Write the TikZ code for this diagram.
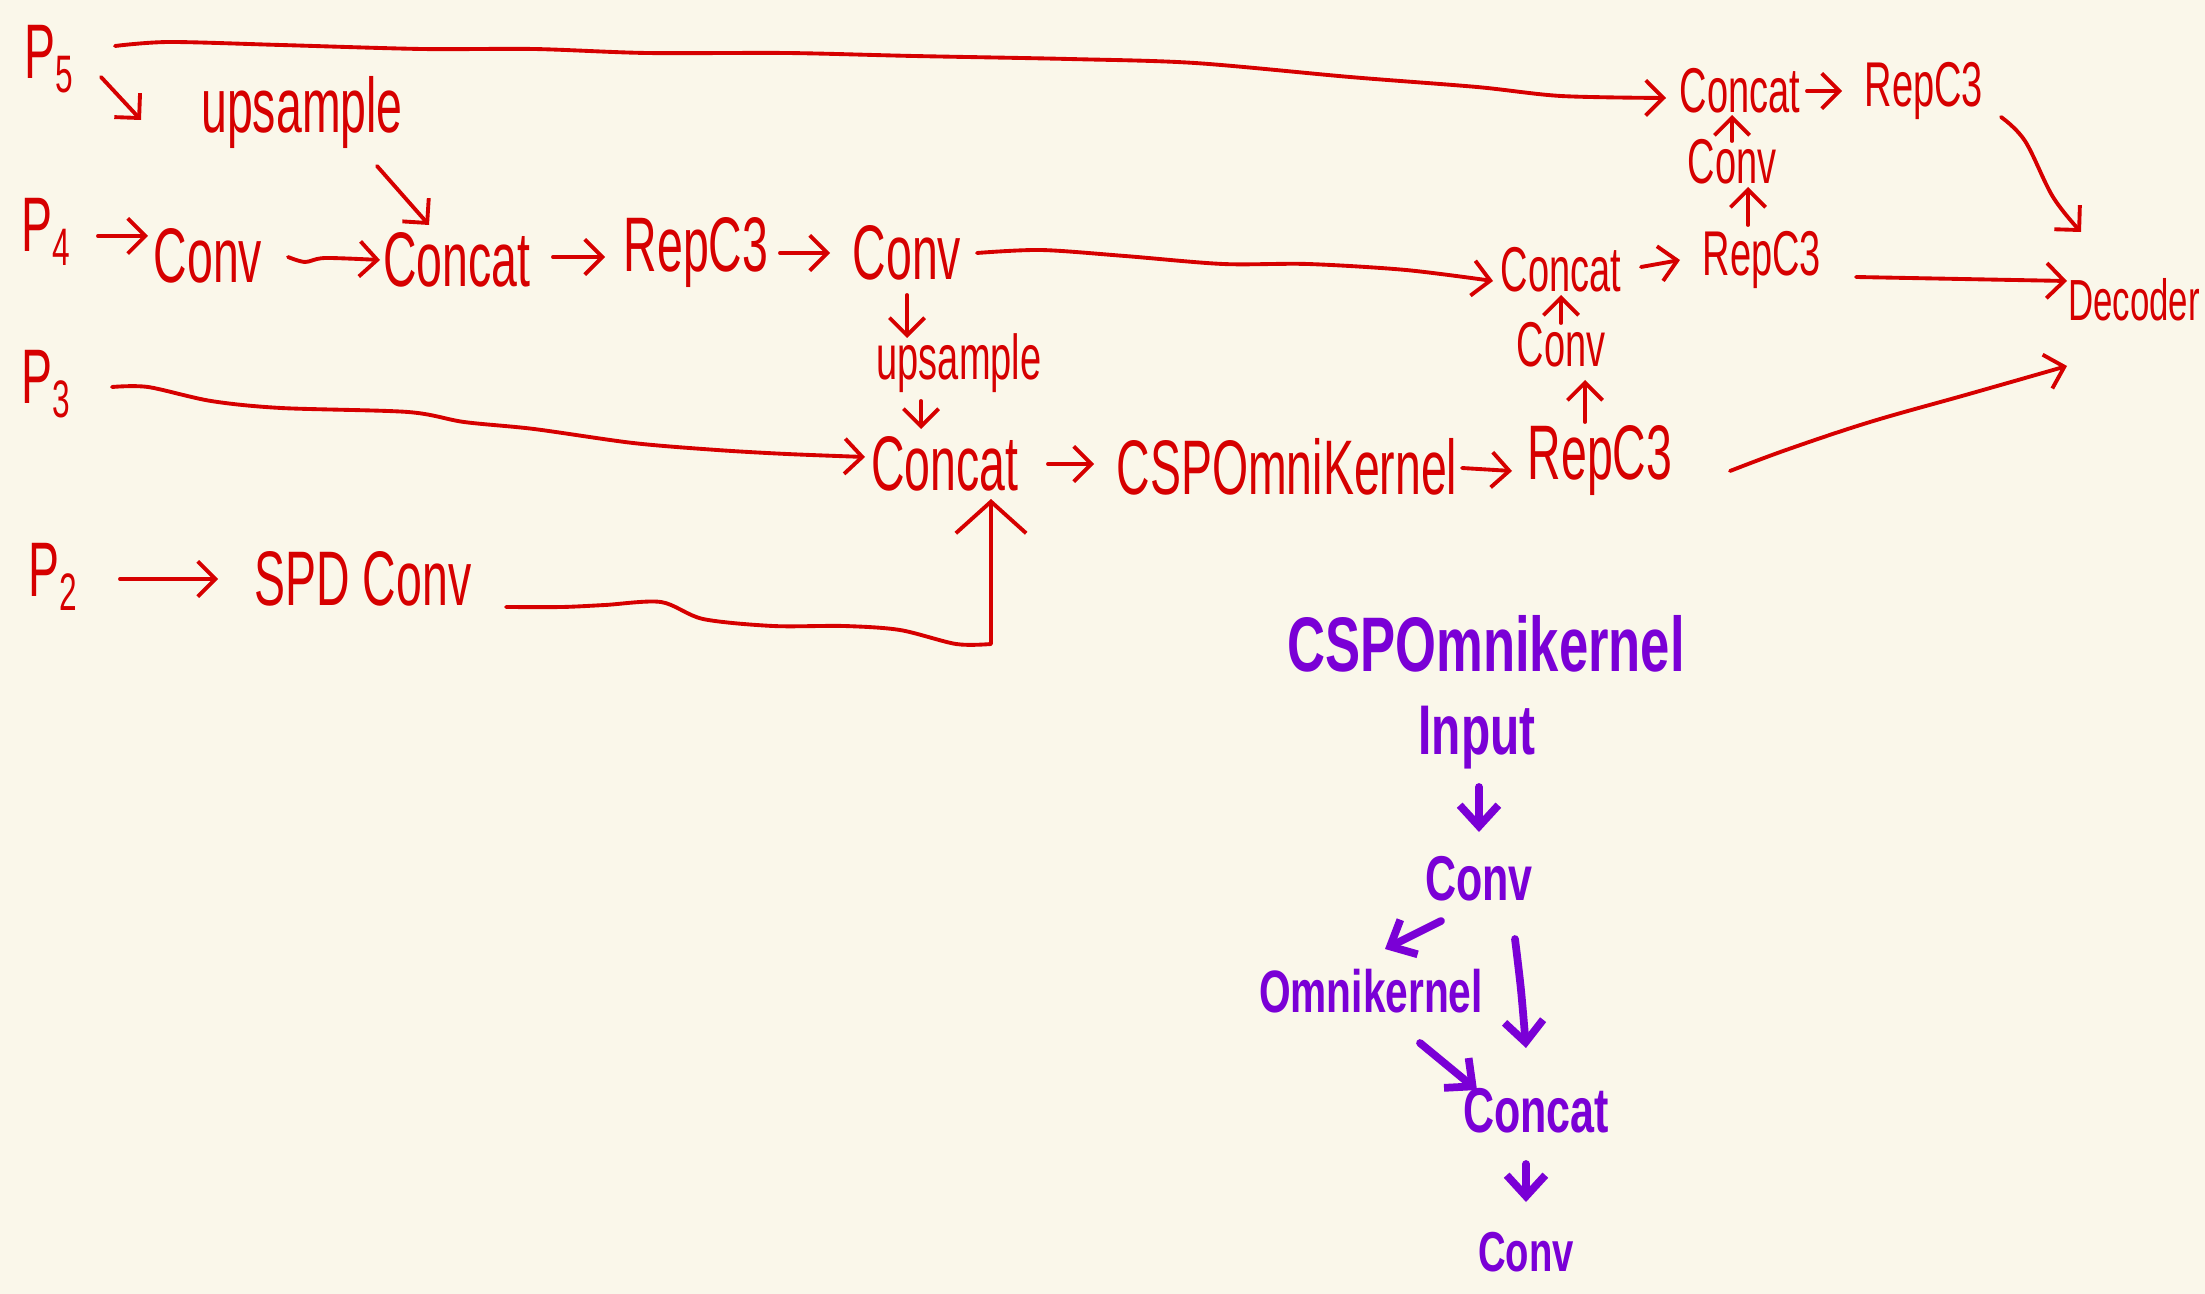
\documentclass[tikz,border=0pt]{standalone}
\usepackage{fontspec}
\setmainfont{Liberation Sans}
\newfontfamily\handr[FakeStretch=0.6]{Liberation Sans}
\newfontfamily\handp[FakeStretch=0.68]{Liberation Sans Bold}
\usetikzlibrary{arrows.meta}
\definecolor{bgc}{RGB}{250,247,234}
\definecolor{hred}{RGB}{214,0,0}
\definecolor{hpurple}{RGB}{122,0,214}
\newcommand\psub[1]{\raisebox{-0.35ex}{\fontsize{15}{15}\selectfont #1}}
\begin{document}
\begin{tikzpicture}[x=0.01cm,y=-0.01cm,
  rt/.style={text=hred,font=\handr\fontsize{#1}{#1}\selectfont,inner sep=2pt},
  rt/.default=22,
  ptxt/.style={text=hpurple,font=\handp\fontsize{#1}{#1}\selectfont,inner sep=2pt},
  ptxt/.default=20,
  rarr/.style={draw=hred,line width=1.1pt,line cap=round,line join=round,-{Straight Barb[length=5pt,width=10pt]}},
  bigarr/.style={draw=hred,line width=1.1pt,line cap=round,line join=round,-{Straight Barb[length=9pt,width=20pt]}},
  parr/.style={draw=hpurple,line width=2.2pt,line cap=round,line join=round,-{Straight Barb[length=6pt,width=11pt]}}]
\fill[bgc] (0,0) rectangle (2205,1294);
\useasboundingbox (0,0) rectangle (2205,1294);

% red nodes
\node[rt] (P5) at (49,59) {P\psub{5}};
\node[rt] (up1) at (302,112) {upsample};
\node[rt] (P4) at (46,232) {P\psub{4}};
\node[rt] (convA) at (208,256) {Conv};
\node[rt] (concatA) at (457,260) {Concat};
\node[rt] (repA) at (696,253) {RepC3};
\node[rt] (convB) at (907,253) {Conv};
\node[rt=18] (up2) at (959,363) {upsample};
\node[rt] (P3) at (46,384) {P\psub{3}};
\node[rt] (concatC) at (945,464) {Concat};
\node[rt] (P2) at (53,577) {P\psub{2}};
\node[rt] (spd) at (363,579) {SPD Conv};
\node[rt] (cspR) at (1287,467) {CSPOmniKernel};
\node[rt] (repC) at (1600,461) {RepC3};
\node[rt=18] (convC) at (1561,345) {Conv};
\node[rt=18] (concatB) at (1561,270) {Concat};
\node[rt=18] (repB) at (1762,260) {RepC3};
\node[rt=18] (convD) at (1732,162) {Conv};
\node[rt=18] (concatT) at (1740,91) {Concat};
\node[rt=18] (repT) at (1924,91) {RepC3};
\node[rt=16.5,anchor=west,inner sep=1pt] (dec) at (2064,300) {Decoder};

% purple nodes
\node[ptxt=22] (title) at (1486,644) {CSPOmnikernel};
\node[ptxt=20] (input) at (1477,738) {Input};
\node[ptxt=18] (convP) at (1479,879) {Conv};
\node[ptxt=17] (omni) at (1371,991) {Omnikernel};
\node[ptxt=18] (concatP) at (1536,1111) {Concat};
\node[ptxt=16] (convQ) at (1526,1252) {Conv};

% red connectors
\draw[rarr] plot[smooth,tension=0.5] coordinates {([shift={(66,-13)}]P5.center) (169,42) (281,45) (422,49) (534,49) (647,53) (787,53) (914,56) (1069,59) (1195,63) (1350,77) (1477,87) (1561,96) ([shift={(-74,7)}]concatT.center)};
\draw[rarr] ([shift={(52,18)}]P5.center) -- ([shift={(-161,8)}]up1.center);
\draw[rarr] ([shift={(75,54)}]up1.center) -- ([shift={(-28,-35)}]concatA.center);
\draw[rarr] ([shift={(52,4)}]P4.center) -- ([shift={(-60,-20)}]convA.center);
\draw[rarr] plot[smooth,tension=0.5] coordinates {([shift={(80,1)}]convA.center) (305,262) (325,258) ([shift={(-77,0)}]concatA.center)};
\draw[rarr] ([shift={(96,-3)}]concatA.center) -- ([shift={(-91,4)}]repA.center);
\draw[rarr] ([shift={(84,0)}]repA.center) -- ([shift={(-77,0)}]convB.center);
\draw[rarr] plot[smooth,tension=0.5] coordinates {([shift={(70,0)}]convB.center) (1041,250) (1125,256) (1223,264) (1308,264) (1406,270) ([shift={(-68,11)}]concatB.center)};
\draw[rarr] ([shift={(0,42)}]convB.center) -- ([shift={(-52,-25)}]up2.center);
\draw[rarr] ([shift={(-38,38)}]up2.center) -- ([shift={(-24,-35)}]concatC.center);
\draw[rarr] plot[smooth,tension=0.5] coordinates {([shift={(66,3)}]P3.center) (148,387) (211,401) (281,408) (408,412) (464,422) (534,429) (633,443) (717,450) (787,454) ([shift={(-80,-7)}]concatC.center)};
\draw[rarr] ([shift={(67,2)}]P2.center) -- ([shift={(-145,0)}]spd.center);
\draw[bigarr] plot[smooth,tension=0.5] coordinates {([shift={(143,28)}]spd.center) (562,607) (605,605) (661,602) (703,619) (773,626) (844,626) (900,630) (956,644) (991,644)} -- ([shift={(46,35)}]concatC.center);
\draw[rarr] ([shift={(103,0)}]concatC.center) -- ([shift={(-193,-3)}]cspR.center);
\draw[rarr] ([shift={(175,1)}]cspR.center) -- ([shift={(-88,10)}]repC.center);
\draw[rarr] ([shift={(-15,-39)}]repC.center) -- ([shift={(24,35)}]convC.center);
\draw[rarr] ([shift={(0,-22)}]convC.center) -- ([shift={(0,25)}]concatB.center);
\draw[rarr] ([shift={(80,-3)}]concatB.center) -- ([shift={(-82,0)}]repB.center);
\draw[rarr] ([shift={(-14,-35)}]repB.center) -- ([shift={(16,25)}]convD.center);
\draw[rarr] ([shift={(0,-21)}]convD.center) -- ([shift={(-8,24)}]concatT.center);
\draw[rarr] ([shift={(67,0)}]concatT.center) -- ([shift={(-82,0)}]repT.center);
\draw[rarr] plot[smooth,tension=0.6] coordinates {([shift={(77,26)}]repT.center) (2025,141) (2053,197) ([shift={(17,-68)}]dec.west)};
\draw[rarr] ([shift={(94,17)}]repB.center) -- ([shift={(3,-19)}]dec.west);
\draw[rarr] plot[smooth,tension=0.6] coordinates {([shift={(130,10)}]repC.center) (1786,450) (1870,422) (1969,394) ([shift={(3,66)}]dec.west)};

% purple connectors
\draw[parr] ([shift={(2,49)}]input.center) -- ([shift={(0,-47)}]convP.center);
\draw[parr] ([shift={(-38,42)}]convP.center) -- ([shift={(14,-42)}]omni.center);
\draw[parr] plot[smooth] coordinates {([shift={(36,60)}]convP.center) (1521,990) ([shift={(-10,-63)}]concatP.center)};
\draw[parr] ([shift={(49,52)}]omni.center) -- ([shift={(-59,-21)}]concatP.center);
\draw[parr] ([shift={(-10,53)}]concatP.center) -- ([shift={(0,-50)}]convQ.center);
\end{tikzpicture}
\end{document}
